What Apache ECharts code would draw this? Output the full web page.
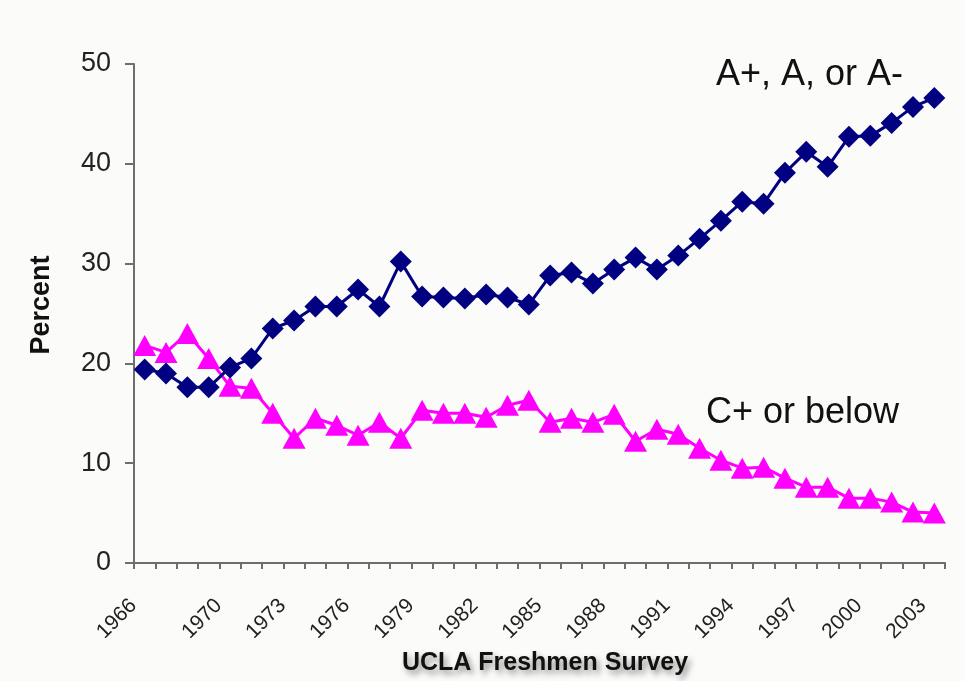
<!DOCTYPE html>
<html>
<head>
<meta charset="utf-8">
<title>UCLA Freshmen Survey</title>
<script src="https://cdn.jsdelivr.net/npm/echarts@6/dist/echarts.min.js"></script>
<style>
  html, body { margin: 0; padding: 0; background: #fbfbf9; }
  #chart { width: 965px; height: 681px; }
</style>
</head>
<body>
<div id="chart"></div>
<script>
// survey years
const years = [
  '1966', '1967', '1968', '1969', '1970', '1971', '1972', '1973', '1974', '1975',
  '1976', '1977', '1978', '1979', '1980', '1981', '1982', '1983', '1984', '1985',
  '1986', '1987', '1988', '1989', '1990', '1991', '1992', '1993', '1994', '1995',
  '1996', '1997', '1998', '1999', '2000', '2001', '2002', '2003'
]
// labels shown on the x axis
const shownYears = ['1966', '1970', '1973', '1976', '1979', '1982', '1985', '1988', '1991', '1994', '1997', '2000', '2003']

// percent reporting A+, A or A- average
const gradeA = [
  19.4, 19.0, 17.6, 17.6, 19.6, 20.5, 23.5, 24.3, 25.7, 25.7,
  27.4, 25.7, 30.2, 26.7, 26.6, 26.5, 26.9, 26.6, 25.9, 28.8,
  29.1, 28.0, 29.4, 30.6, 29.4, 30.8, 32.5, 34.3, 36.2, 36.0,
  39.1, 41.2, 39.7, 42.7, 42.8, 44.1, 45.7, 46.6
]
// percent reporting C+ or below
const gradeC = [
  21.8, 21.1, 23.0, 20.5, 17.7, 17.5, 15.0, 12.5, 14.5, 13.8,
  12.8, 14.1, 12.5, 15.3, 15.0, 15.0, 14.6, 15.8, 16.3, 14.1,
  14.5, 14.1, 14.9, 12.2, 13.4, 12.9, 11.5, 10.3, 9.5, 9.6,
  8.5, 7.6, 7.6, 6.5, 6.5, 6.1, 5.1, 5.0
]

const chart = echarts.init(document.getElementById('chart'))
const font = '"Liberation Sans", Arial, sans-serif'
const axisColor = '#6e6e6e'

const option = {
  backgroundColor: '#fbfbf9',
  animation: false,
  grid: { left: 134, right: 20, top: 64, bottom: 118 },
  xAxis: {
    type: 'category',
    data: years,
    boundaryGap: true,
    axisLine: { lineStyle: { color: axisColor, width: 2 } },
    axisTick: { show: true, interval: 0, length: 6, lineStyle: { color: axisColor, width: 2 } },
    axisLabel: {
      interval: (i, v) => shownYears.includes(v),
      rotate: 45,
      margin: 28,
      fontSize: 21,
      fontFamily: font,
      color: '#222',
      padding: [0, 16, 0, 0]
    },
    splitLine: { show: false }
  },
  yAxis: {
    type: 'value',
    min: 0,
    max: 50,
    interval: 10,
    axisLine: { show: true, lineStyle: { color: axisColor, width: 2 } },
    axisTick: { show: true, length: 9, lineStyle: { color: axisColor, width: 2 } },
    axisLabel: { fontSize: 27, fontFamily: font, color: '#222', margin: 23 },
    splitLine: { show: false }
  },
  series: [
    {
      name: 'A+, A, or A-',
      type: 'line',
      data: gradeA,
      symbol: 'diamond',
      symbolSize: 22,
      showAllSymbol: true,
      lineStyle: { color: '#000080', width: 3 },
      itemStyle: { color: '#000080' },
      z: 3
    },
    {
      name: 'C+ or below',
      type: 'line',
      data: gradeC,
      symbol: 'triangle',
      symbolSize: [23, 21],
      showAllSymbol: true,
      lineStyle: { color: '#ff00ff', width: 3 },
      itemStyle: { color: '#ff00ff' },
      z: 2
    }
  ],
  graphic: [
    {
      type: 'text',
      x: 42, y: 305,
      rotation: Math.PI / 2,
      style: {
        text: 'Percent',
        fontSize: 27, fontWeight: 'bold', fontFamily: font,
        fill: '#111', align: 'center', verticalAlign: 'middle'
      }
    },
    {
      type: 'text',
      x: 545, y: 663,
      style: {
        text: 'UCLA Freshmen Survey',
        fontSize: 25, fontWeight: 'bold', fontFamily: font,
        fill: '#111', align: 'center', verticalAlign: 'middle',
        textShadowColor: 'rgba(0,0,0,0.45)', textShadowBlur: 6,
        textShadowOffsetX: 3, textShadowOffsetY: 4
      }
    },
    {
      type: 'text',
      x: 716, y: 75,
      style: {
        text: 'A+, A, or A-',
        fontSize: 36, fontFamily: font,
        fill: '#111', align: 'left', verticalAlign: 'middle'
      }
    },
    {
      type: 'text',
      x: 706, y: 413,
      style: {
        text: 'C+ or below',
        fontSize: 36, fontFamily: font,
        fill: '#111', align: 'left', verticalAlign: 'middle'
      }
    }
  ]
}

chart.setOption(option)
</script>
</body>
</html>
